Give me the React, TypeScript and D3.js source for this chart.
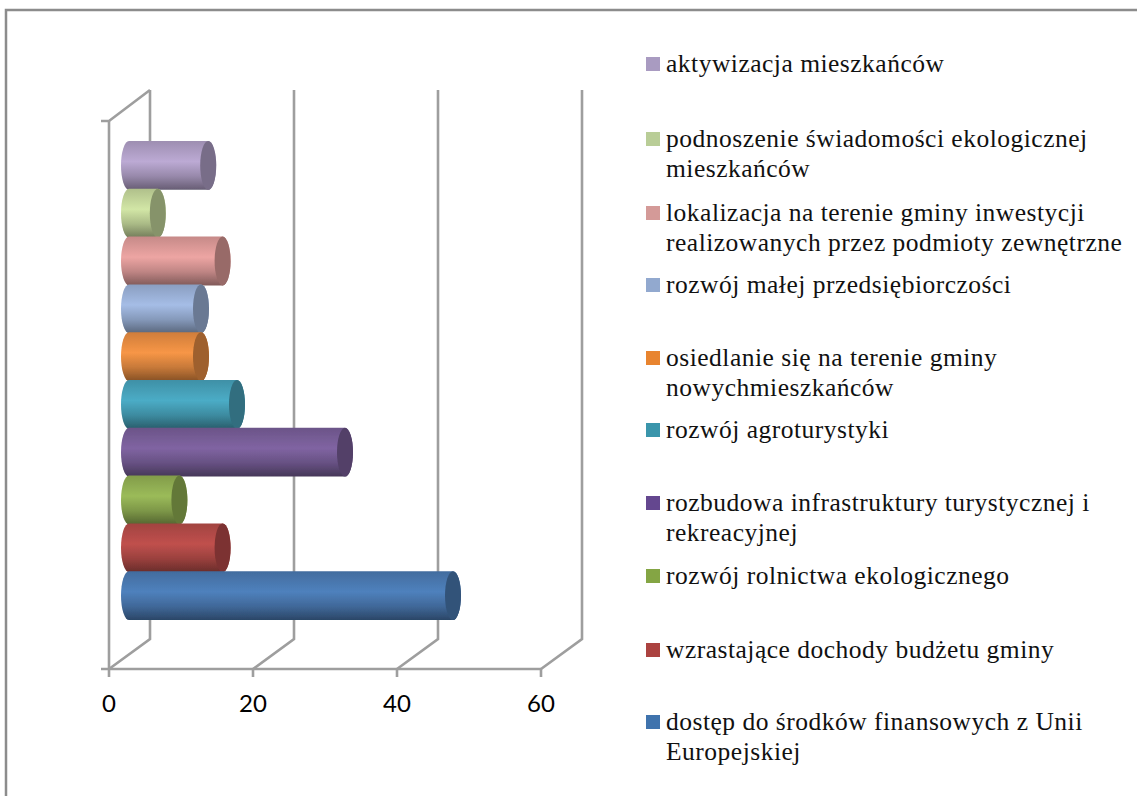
import React from "react";
import * as d3 from "d3";

const categories = [
  "dostęp do środków finansowych z Unii Europejskiej",
  "wzrastające dochody budżetu gminy",
  "rozwój rolnictwa ekologicznego",
  "rozbudowa infrastruktury turystycznej i rekreacyjnej",
  "rozwój agroturystyki",
  "osiedlanie się na terenie gminy nowychmieszkańców",
  "rozwój małej przedsiębiorczości",
  "lokalizacja na terenie gminy inwestycji realizowanych przez podmioty zewnętrzne",
  "podnoszenie świadomości ekologicznej mieszkańców",
  "aktywizacja mieszkańców",
];
const values = [45, 13, 7, 30, 15, 10, 10, 13, 4, 11];
const colors = ["#4f81bd", "#c0504d", "#9bbb59", "#8064a2", "#4bacc6", "#f79646", "#a5bde6", "#eda5a3", "#d2e6a6", "#bcaad4"];
const legendSwatch = ["#3f73ad", "#ab4240", "#84a544", "#64478f", "#3a95ab", "#e8842f", "#92a9cf", "#d49a98", "#b9cd97", "#a99bc1"];
const legendLines = [
  ["dostęp do środków finansowych z Unii", "Europejskiej"],
  ["wzrastające dochody budżetu gminy"],
  ["rozwój rolnictwa ekologicznego"],
  ["rozbudowa infrastruktury turystycznej i", "rekreacyjnej"],
  ["rozwój agroturystyki"],
  ["osiedlanie się na terenie gminy", "nowychmieszkańców"],
  ["rozwój małej przedsiębiorczości"],
  ["lokalizacja na terenie gminy inwestycji", "realizowanych przez podmioty zewnętrzne"],
  ["podnoszenie świadomości ekologicznej", "mieszkańców"],
  ["aktywizacja mieszkańców"],
];
const legendY = [722, 650, 576, 503, 430, 358, 285, 213, 139, 64];
const ticks = [0, 20, 40, 60];

const W = 1137, H = 796;
const x = d3.scaleLinear().domain([0, 60]).range([109, 541]);
const depthX = 41, floorY = 669, topY = 121, depthY = 30;
const y = d3.scaleBand<string>().domain(categories).range([619, 141]).paddingInner(0);
const barDX = 20;
const rx = 8;
const grey = "#9e9e9e";

function shade(c: string, k: number) {
  return d3.rgb(c).darker(k).formatHex();
}

export default function App() {
  const lx = d3.line();
  return (
    <svg width={W} height={H} style={{ position: "fixed", left: 0, top: 0, background: "#fff" }}>
      <defs>
        {categories.map((_, i) => (
          <linearGradient key={i} id={`g${i}`} x1="0" y1="0" x2="0" y2="1">
            <stop offset="0" stopColor={shade(colors[i], 0.5)} />
            <stop offset="0.42" stopColor={colors[i]} />
            <stop offset="0.72" stopColor={shade(colors[i], 0.6)} />
            <stop offset="1" stopColor={shade(colors[i], 1.7)} />
          </linearGradient>
        ))}
        <filter id="soft" x="-5%" y="-5%" width="110%" height="110%">
          <feGaussianBlur stdDeviation="0.35" />
        </filter>
      </defs>
      <path d={lx([[6, H], [6, 10], [W, 10]]) || ""} fill="none" stroke="#8c8c8c" strokeWidth={2.5} />
      {/* walls */}
      <g stroke={grey} strokeWidth={2.6} fill="none">
        <path d={lx([[x(0), topY], [x(0), floorY]]) || ""} />
        <path d={lx([[101, topY], [x(0), topY], [x(0) + depthX, topY - depthY - 1]]) || ""} />
        <path d={lx([[101, floorY], [x(60), floorY]]) || ""} />
        {ticks.map((t) => (
          <g key={t}>
            <path d={lx([[x(t), floorY], [x(t) + depthX, floorY - depthY], [x(t) + depthX, topY - depthY - 1]]) || ""} />
            <path d={lx([[x(t), floorY], [x(t), floorY + 8]]) || ""} />
          </g>
        ))}
      </g>
      {ticks.map((t) => (
        <text key={t} x={x(t)} y={712} textAnchor="middle" fontFamily="Lato, 'Open Sans', sans-serif" fontSize={24} fill="#000">{t}</text>
      ))}
      {/* bars, back to front */}
      <g filter="url(#soft)">
        {categories.map((c, i) => i).reverse().map((i) => {
          const c = categories[i];
          const top = y(c)!, h = y.bandwidth() + 1;
          const x0 = x(0) + barDX, x1 = x(values[i]) + barDX;
          const ry = h / 2;
          const body = `M${x0},${top}L${x1},${top}A${rx},${ry} 0 0 1 ${x1},${top + h}L${x0},${top + h}A${rx},${ry} 0 0 1 ${x0},${top}Z`;
          return (
            <g key={c}>
              <path d={body} fill={`url(#g${i})`} />
              <ellipse cx={x1} cy={top + ry} rx={rx} ry={ry} fill={shade(colors[i], 1.25)} />
            </g>
          );
        })}
      </g>
      {/* legend */}
      {categories.map((c, i) => (
        <g key={c}>
          <rect x={646} y={legendY[i] - 7} width={14} height={14} fill={legendSwatch[i]} />
          {legendLines[i].map((line, j) => (
            <text key={j} x={666} y={legendY[i] + 8 + j * 30} fontFamily="'Liberation Serif', serif" fontSize={25.5} letterSpacing={0.5} fill="#111">{line}</text>
          ))}
        </g>
      ))}
    </svg>
  );
}
